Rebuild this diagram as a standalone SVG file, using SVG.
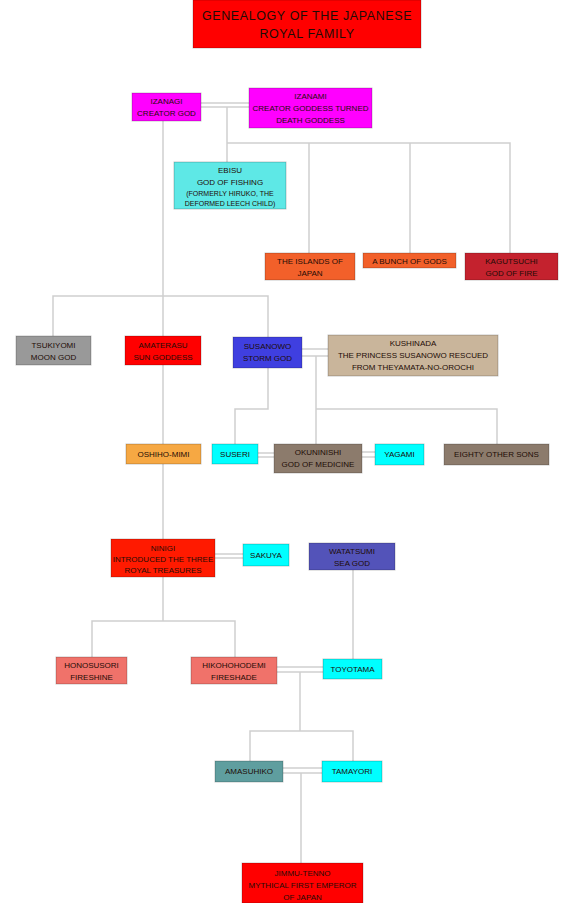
<svg xmlns="http://www.w3.org/2000/svg" width="564" height="903" viewBox="0 0 564 903">
<style>
.b{stroke:#000;stroke-opacity:0.22;stroke-width:1}
text{font-family:"Liberation Sans",Arial,sans-serif;font-size:8px;fill:#1e0c06;text-anchor:middle}
.t{font-size:12.5px;letter-spacing:0.6px}
.s{font-size:7px}
#connectors line,#connectors polyline{stroke:#cfcfcf;stroke-width:1.5;fill:none}
</style>
<rect width="564" height="903" fill="#fff"/>
<g id="connectors">
<line x1="201" y1="103" x2="249" y2="103"/>
<line x1="201" y1="107" x2="249" y2="107"/>
<line x1="227" y1="107" x2="227" y2="162"/>
<polyline points="227,143 510,143 510,253"/>
<line x1="309" y1="143" x2="309" y2="253"/>
<line x1="410" y1="143" x2="410" y2="253"/>
<line x1="163" y1="121" x2="163" y2="336"/>
<polyline points="53,336 53,296 268,296 268,337"/>
<line x1="302" y1="349" x2="328" y2="349"/>
<line x1="302" y1="356" x2="328" y2="356"/>
<line x1="316" y1="356" x2="316" y2="444"/>
<polyline points="316,409 497,409 497,444"/>
<polyline points="268,368 268,409 235,409 235,444"/>
<line x1="258" y1="453" x2="274" y2="453"/>
<line x1="258" y1="457" x2="274" y2="457"/>
<line x1="362" y1="452" x2="375" y2="452"/>
<line x1="362" y1="457" x2="375" y2="457"/>
<line x1="163" y1="365" x2="163" y2="444"/>
<line x1="163" y1="464" x2="163" y2="539"/>
<line x1="215" y1="554" x2="243" y2="554"/>
<line x1="215" y1="558" x2="243" y2="558"/>
<line x1="163" y1="577" x2="163" y2="621"/>
<polyline points="92,657 92,621 235,621 235,657"/>
<line x1="353" y1="570" x2="353" y2="659"/>
<line x1="277" y1="667" x2="323" y2="667"/>
<line x1="277" y1="672" x2="323" y2="672"/>
<line x1="300" y1="672" x2="300" y2="731"/>
<polyline points="250,761 250,731 353,731 353,761"/>
<line x1="283" y1="768" x2="322" y2="768"/>
<line x1="283" y1="773" x2="322" y2="773"/>
<line x1="301" y1="773" x2="301" y2="863"/>
</g>
<g id="title"><rect class="b" x="193" y="0" width="228" height="48" fill="#ff0000"/><text class="t" x="307" y="20">GENEALOGY OF THE JAPANESE</text><text class="t" x="307" y="38">ROYAL FAMILY</text></g>
<g id="izanagi"><rect class="b" x="132" y="93" width="69" height="28" fill="#ff00ff"/><text x="166.5" y="104">IZANAGI</text><text x="166.5" y="116">CREATOR GOD</text></g>
<g id="izanami"><rect class="b" x="249" y="88" width="123" height="40" fill="#ff00ff"/><text x="310.5" y="99">IZANAMI</text><text x="310.5" y="111">CREATOR GODDESS TURNED</text><text x="310.5" y="123">DEATH GODDESS</text></g>
<g id="ebisu"><rect class="b" x="174" y="162" width="112" height="47" fill="#5ee8e6"/><text x="230" y="173">EBISU</text><text x="230" y="185">GOD OF FISHING</text><text class="s" x="230" y="196">(FORMERLY HIRUKO, THE</text><text class="s" x="230" y="206">DEFORMED LEECH CHILD)</text></g>
<g id="islands"><rect class="b" x="265" y="253" width="90" height="27" fill="#f2602a"/><text x="310" y="264">THE ISLANDS OF</text><text x="310" y="276">JAPAN</text></g>
<g id="bunch"><rect class="b" x="363" y="253" width="93" height="15" fill="#f2602a"/><text x="409.5" y="264">A BUNCH OF GODS</text></g>
<g id="kagutsuchi"><rect class="b" x="465" y="253" width="93" height="27" fill="#c4222e"/><text x="511.5" y="264">KAGUTSUCHI</text><text x="511.5" y="276">GOD OF FIRE</text></g>
<g id="tsukiyomi"><rect class="b" x="16" y="336" width="75" height="29" fill="#999999"/><text x="53.5" y="348">TSUKIYOMI</text><text x="53.5" y="360">MOON GOD</text></g>
<g id="amaterasu"><rect class="b" x="125" y="336" width="76" height="29" fill="#ff0000"/><text x="163" y="348">AMATERASU</text><text x="163" y="360">SUN GODDESS</text></g>
<g id="susanowo"><rect class="b" x="233" y="337" width="69" height="31" fill="#3f3fe0"/><text x="267.5" y="349">SUSANOWO</text><text x="267.5" y="361">STORM GOD</text></g>
<g id="kushinada"><rect class="b" x="328" y="335" width="170" height="41" fill="#c9b59b"/><text x="413" y="346">KUSHINADA</text><text x="413" y="358">THE PRINCESS SUSANOWO RESCUED</text><text x="413" y="370">FROM THEYAMATA-NO-OROCHI</text></g>
<g id="oshihomimi"><rect class="b" x="126" y="444" width="75" height="20" fill="#f6a843"/><text x="163.5" y="457">OSHIHO-MIMI</text></g>
<g id="suseri"><rect class="b" x="212" y="444" width="46" height="20" fill="#00ffff"/><text x="235" y="457">SUSERI</text></g>
<g id="okuninishi"><rect class="b" x="274" y="444" width="88" height="29" fill="#8c7b6c"/><text x="318" y="455">OKUNINISHI</text><text x="318" y="467">GOD OF MEDICINE</text></g>
<g id="yagami"><rect class="b" x="375" y="444" width="49" height="21" fill="#00ffff"/><text x="399.5" y="457">YAGAMI</text></g>
<g id="eighty"><rect class="b" x="444" y="444" width="105" height="21" fill="#8c7b6c"/><text x="496.5" y="457">EIGHTY OTHER SONS</text></g>
<g id="ninigi"><rect class="b" x="111" y="539" width="104" height="38" fill="#ff1a00"/><text x="163" y="551">NINIGI</text><text x="163" y="562">INTRODUCED THE THREE</text><text x="163" y="573">ROYAL TREASURES</text></g>
<g id="sakuya"><rect class="b" x="243" y="544" width="46" height="22" fill="#00ffff"/><text x="266" y="558">SAKUYA</text></g>
<g id="watatsumi"><rect class="b" x="309" y="543" width="86" height="27" fill="#5353b9"/><text x="352" y="554">WATATSUMI</text><text x="352" y="566">SEA GOD</text></g>
<g id="honosusori"><rect class="b" x="56" y="657" width="71" height="27" fill="#f0726a"/><text x="91.5" y="668">HONOSUSORI</text><text x="91.5" y="680">FIRESHINE</text></g>
<g id="hikohohodemi"><rect class="b" x="191" y="657" width="86" height="27" fill="#f0726a"/><text x="234" y="668">HIKOHOHODEMI</text><text x="234" y="680">FIRESHADE</text></g>
<g id="toyotama"><rect class="b" x="323" y="659" width="59" height="20" fill="#00ffff"/><text x="352.5" y="672">TOYOTAMA</text></g>
<g id="amasuhiko"><rect class="b" x="215" y="761" width="68" height="21" fill="#5f9e9f"/><text x="249" y="774">AMASUHIKO</text></g>
<g id="tamayori"><rect class="b" x="322" y="761" width="60" height="21" fill="#00ffff"/><text x="352" y="774">TAMAYORI</text></g>
<g id="jimmu"><rect class="b" x="242" y="863" width="121" height="40" fill="#ff0000"/><text x="302.5" y="876">JIMMU-TENNO</text><text x="302.5" y="888">MYTHICAL FIRST EMPEROR</text><text x="302.5" y="900">OF JAPAN</text></g>
</svg>
